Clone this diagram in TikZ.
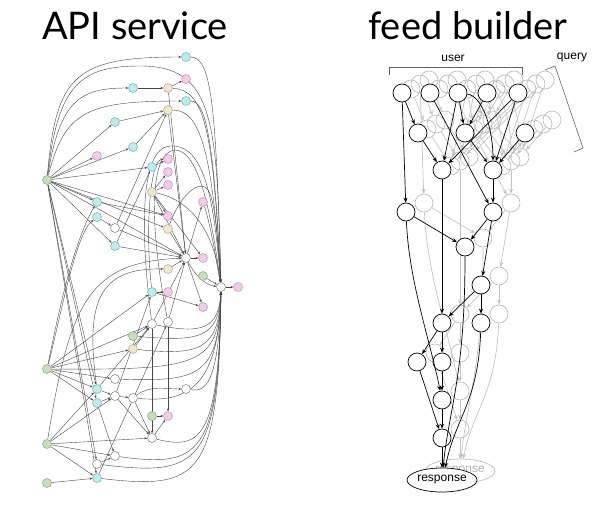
\documentclass[tikz,border=0pt]{standalone}
\usepackage{fontspec}
\setmainfont{Liberation Sans}
\newfontfamily\titlefont{Lato}
\usetikzlibrary{arrows.meta,shapes.geometric,backgrounds}
\definecolor{cyf}{HTML}{B8EEEE}\definecolor{cyd}{HTML}{6FA6A6}
\definecolor{pkf}{HTML}{F7CAEC}\definecolor{pkd}{HTML}{B38CAA}
\definecolor{tnf}{HTML}{EFE8CB}\definecolor{tnd}{HTML}{A9A283}
\definecolor{gnf}{HTML}{C5E0B9}\definecolor{gnd}{HTML}{7FA070}
\tikzset{
  lnd/.style={circle,minimum size=9pt,inner sep=0pt,line width=0.45pt},
  ncy/.style={lnd,fill=cyf,draw=cyd},
  npk/.style={lnd,fill=pkf,draw=pkd},
  ntn/.style={lnd,fill=tnf,draw=tnd},
  ngn/.style={lnd,fill=gnf,draw=gnd},
  nwh/.style={lnd,fill=white,draw=black!55},
  ed/.style={draw=black!72,line width=0.4pt,-{Stealth[length=2.8pt,width=2.2pt]}},
  fbnode/.style={circle,minimum size=18pt,inner sep=0pt,draw=black,line width=0.7pt,fill=white},
  fbedge/.style={draw=black,line width=0.7pt,-{Stealth[length=5pt,width=4pt]}},
  fbresp/.style={ellipse,minimum width=70pt,minimum height=24pt,inner sep=0pt,draw=black,line width=0.7pt,fill=white,font=\fontsize{12}{13}\selectfont},
  ghnode/.style={circle,minimum size=18pt,inner sep=0pt,draw=black!27,line width=0.65pt},
  ghedge/.style={draw=black!24,line width=0.65pt,-{Stealth[length=5pt,width=4pt]}},
  ghresp/.style={ellipse,minimum width=70pt,minimum height=24pt,inner sep=0pt,draw=black!27,text=black!30,line width=0.65pt,font=\fontsize{12}{13}\selectfont},
  title/.style={font=\titlefont\fontsize{38}{40}\selectfont,inner sep=0pt},
  lbl/.style={font=\fontsize{12}{13}\selectfont,inner sep=0pt},
  brk/.style={draw=black!60,line width=0.6pt},
}
\newcommand\fbTopNodes[1]{%
 \node[fbnode] (#1A1) at (402,93) {};
 \node[fbnode] (#1A2) at (430,93) {};
 \node[fbnode] (#1A3) at (458,93) {};
 \node[fbnode] (#1A4) at (487,93) {};
 \node[fbnode] (#1A5) at (518,93) {};
 \node[fbnode] (#1B1) at (418,133) {};
 \node[fbnode] (#1B2) at (465,133) {};
 \node[fbnode] (#1B3) at (525,133) {};
 \node[fbnode] (#1C1) at (442,170) {};
 \node[fbnode] (#1C2) at (493,170) {};
}
\newcommand\fbBotNodes[1]{%
 \node[fbnode] (#1D1) at (406,212) {};
 \node[fbnode] (#1D2) at (493,212) {};
 \node[fbnode] (#1E1) at (465,247) {};
 \node[fbnode] (#1F1) at (481,285) {};
 \node[fbnode] (#1G1) at (442,323) {};
 \node[fbnode] (#1G2) at (481,323) {};
 \node[fbnode] (#1H1) at (417,362) {};
 \node[fbnode] (#1H2) at (442,362) {};
 \node[fbnode] (#1I1) at (442,400) {};
 \node[fbnode] (#1J1) at (442,438) {};
 \node[fbresp] (#1R) at (442,480) {response};
}
\newcommand\fbTopEdges[1]{%
 \draw[fbedge] (#1A1) -- (#1B1);
 \draw[fbedge] (#1B1) -- (#1C1);
 \draw[fbedge] (#1A3) -- (#1C1);
 \draw[fbedge] (#1A3) -- (#1B2);
 \draw[fbedge] (#1A4) -- (#1B2);
 \draw[fbedge] (#1A3) .. controls +(25,3) and +(0,-40) .. (#1C2);
 \draw[fbedge] (#1A5) -- (#1C1);
 \draw[fbedge] (#1A5) -- (#1C2);
 \draw[fbedge] (#1B2) -- (#1C2);
 \draw[fbedge] (#1B3) -- (#1C2);
}
\newcommand\fbBotEdges[1]{%
 \draw[fbedge] (#1A1) -- (#1D1);
 \draw[fbedge] (#1A2) -- (#1D2);
 \draw[fbedge] (#1C1) -- (#1G1);
 \draw[fbedge] (#1C2) -- (#1D2);
 \draw[fbedge] (#1D1) -- (#1E1);
 \draw[fbedge] (#1D2) -- (#1E1);
 \draw[fbedge] (#1D2) -- (#1F1);
 \draw[fbedge] (#1F1) -- (#1G1);
 \draw[fbedge] (#1F1) -- (#1G2);
 \draw[fbedge] (#1G1) -- (#1H1);
 \draw[fbedge] (#1G1) -- (#1H2);
 \draw[fbedge] (#1H2) -- (#1I1);
 \draw[fbedge] (#1I1) -- (#1J1);
 \draw[fbedge] (#1H1) -- (#1J1);
 \draw[fbedge] (#1D1) .. controls +(3,70) and +(-12,-60) .. (#1I1);
 \draw[fbedge] (#1J1) -- (#1R);
 \draw[fbedge] (#1E1) .. controls +(0,130) and +(6,-60) .. (#1R.85);
 \draw[fbedge] (#1G2) .. controls +(-3,80) and +(10,-50) .. (#1R.75);
}
\begin{document}
\begin{tikzpicture}[x=1pt,y=-1pt]
\useasboundingbox (0,0) rectangle (600,506);
% titles
\node[title,anchor=base] (ttlA) at (135,39) {API service};
\node[title,anchor=base] (ttlB) at (468,39) {feed builder};
% ---------------- left graph nodes
\node[ngn] (g1) at (47,180) {};
\node[ngn] (g2) at (47,369) {};
\node[ngn] (g3) at (47,444) {};
\node[ngn] (g4) at (47,483) {};
\node[ncy] (c1) at (186,57) {};
\node[ncy] (c2) at (133,88) {};
\node[ntn] (t1) at (168,88) {};
\node[npk] (p1) at (186,79) {};
\node[ncy] (c3) at (186,101) {};
\node[ntn] (t2) at (168,110) {};
\node[ncy] (c4) at (115,122) {};
\node[ncy] (c5) at (133,147) {};
\node[npk] (p2) at (97,156) {};
\node[ncy] (c6) at (152,167) {};
\node[npk] (p3) at (168,159) {};
\node[npk] (p4) at (168,172) {};
\node[npk] (p5) at (168,185) {};
\node[ntn] (t3) at (152,192) {};
\node[npk] (p6) at (203,202) {};
\node[ncy] (c7) at (97,202) {};
\node[ncy] (c8) at (97,217) {};
\node[nwh] (w1) at (115,228) {};
\node[npk] (p7) at (168,216) {};
\node[ntn] (t4) at (168,229) {};
\node[ncy] (c9) at (115,246) {};
\node[nwh] (w2) at (186,258) {};
\node[npk] (p8) at (203,258) {};
\node[ntn] (t5) at (168,269) {};
\node[ngn] (g5) at (203,276) {};
\node[nwh] (w3) at (221,287) {};
\node[npk] (p9) at (238,287) {};
\node[ncy] (c10) at (152,292) {};
\node[npk] (p10) at (168,292) {};
\node[npk] (p11) at (203,307) {};
\node[nwh] (w4) at (152,324) {};
\node[nwh] (w5) at (168,322) {};
\node[ngn] (g6) at (133,336) {};
\node[ntn] (t6) at (133,349) {};
\node[nwh] (w6) at (115,379) {};
\node[ncy] (c11) at (97,389) {};
\node[ncy] (c12) at (97,403) {};
\node[nwh] (w7) at (115,396) {};
\node[nwh] (w8) at (133,398) {};
\node[nwh] (w9) at (186,389) {};
\node[ngn] (g7) at (152,416) {};
\node[npk] (p12) at (168,416) {};
\node[nwh] (w10) at (152,438) {};
\node[nwh] (w11) at (115,456) {};
\node[nwh] (w12) at (97,464) {};
\node[ncy] (c13) at (97,478) {};
\begin{pgfonlayer}{background}
% top arcs
\draw[ed] (g1) .. controls (56,75) and (75,57) .. (c1);
\draw[ed] (g1) .. controls (58,85) and (80,66) .. (140,66) .. controls (214,66) and (217,120) .. (w3);
\draw[ed] (c1) .. controls (212,57) and (216,110) .. (w3);
\draw[ed] (g1) .. controls (60,100) and (80,88) .. (c2);
\draw[ed] (c2) -- (t1);
\draw[ed] (t1) -- (p1);
\draw[ed] (t1) .. controls (205,90) and (213,130) .. (w3);
\draw[ed] (t1) -- (w2);
\draw[ed] (g1) .. controls (65,112) and (85,101) .. (c3);
\draw[ed] (c3) .. controls (206,101) and (214,140) .. (w3);
\draw[ed] (g1) -- (c4);
\draw[ed] (c4) -- (t2);
\draw[ed] (g1) -- (c5);
\draw[ed] (c5) -- (t2);
\draw[ed] (t2) .. controls (200,110) and (212,150) .. (w3);
\draw[ed] (t2) -- (w2);
\draw[ed] (g1) -- (p2);
\draw[ed] (g1) -- (c6);
\draw[ed] (c6) -- (p3);
\draw[ed] (g1) -- (p7);
\draw[ed] (g1) -- (t4);
\draw[ed] (g1) -- (c7);
\draw[ed] (c8) -- (w1);
\draw[ed] (g1) -- (c9);
\draw[ed] (g1) -- (w2);
\draw[ed] (g1) -- (c11);
\draw[ed] (g1) -- (c12);
\draw[ed] (g1) -- (w12);
\draw[ed] (g1) -- (c13);
% t3 group
\draw[ed] (t3) -- (p4);
\draw[ed] (t3) -- (p5);
\draw[ed] (t3) -- (p7);
\draw[ed] (t3) -- (w2);
\draw[ed] (t3) -- (p8);
\draw[ed] (t3) .. controls (190,200) and (214,230) .. (w3);
% loops over the pink nodes
\draw[ed] (w4) .. controls (140,230) and (140,148) .. (170,146) .. controls (205,144) and (214,200) .. (w3);
\draw[ed] (w5) .. controls (150,230) and (148,152) .. (175,150) .. controls (200,150) and (212,220) .. (w3);
\draw[ed] (c10) .. controls (145,230) and (150,160) .. (p3);
\draw[ed] (t4) .. controls (180,195) and (200,178) .. (208,190) .. controls (215,200) and (218,240) .. (w3);
% hub w2 and sink w3
\draw[ed] (w2) -- (p8);
\draw[ed] (w2) -- (p6);
\draw[ed] (w2) -- (p11);
\draw[ed] (w2) .. controls (195,275) and (205,285) .. (w3);
\draw[ed] (g5) -- (w3);
\draw[ed] (w3) -- (p9);
\draw[ed] (p6) .. controls (212,230) and (216,260) .. (w3);
\draw[ed] (t4) -- (w2);
\draw[ed] (c9) -- (w2);
\draw[ed] (w1) -- (w2);
\draw[ed] (c7) -- (p7);
\draw[ed] (t5) -- (w2);
\draw[ed] (w4) -- (w2);
\draw[ed] (w5) -- (w2);
\draw[ed] (w1) -- (t2);
\draw[ed] (c9) -- (c6);
% lower part
\draw[ed] (g2) -- (c10);
\draw[ed] (c10) -- (p10);
\draw[ed] (c10) -- (p11);
\draw[ed] (g6) -- (w4);
\draw[ed] (t6) -- (w4);
\draw[ed] (g2) -- (t6);
\draw[ed] (g2) -- (w4);
\draw[ed] (g2) -- (w6);
\draw[ed] (g2) -- (c11);
\draw[ed] (g2) -- (c12);
\draw[ed] (g2) .. controls (60,320) and (75,235) .. (c8);
\draw[ed] (g2) .. controls (57,320) and (72,245) .. (c7);
\draw[ed] (g3) .. controls (70,300) and (90,262) .. (w2);
\draw[ed] (c11) .. controls (85,300) and (100,268) .. (t5);
\draw[ed] (c11) -- (w7);
\draw[ed] (c12) -- (w7);
\draw[ed] (w7) -- (w8);
\draw[ed] (w8) .. controls (150,385) and (165,389) .. (w9);
\draw[ed] (w8) -- (w10);
\draw[ed] (w7) -- (w10);
\draw[ed] (g7) -- (p12);
\draw[ed] (w10) -- (p12);
\draw[ed] (w5) -- (p12);
\draw[ed] (w4) -- (w10);
\draw[ed] (g3) -- (c11);
\draw[ed] (g3) -- (w10);
\draw[ed] (g3) -- (w11);
\draw[ed] (g3) -- (c13);
\draw[ed] (g3) -- (w7);
\draw[ed] (c12) -- (w11);
\draw[ed] (w12) -- (w11);
\draw[ed] (g4) -- (c13);
\draw[ed] (c13) -- (w5);
\draw[ed] (c11) -- (w4);
\draw[ed] (w7) -- (c10);
% arcs rising into the sink
\draw[ed] (w4) .. controls (200,334) and (219,330) .. (w3);
\draw[ed] (g6) .. controls (200,342) and (219,338) .. (w3);
\draw[ed] (t6) .. controls (200,356) and (219,350) .. (w3);
\draw[ed] (g2) .. controls (200,370) and (219,366) .. (w3);
\draw[ed] (w6) .. controls (200,382) and (219,376) .. (w3);
\draw[ed] (w9) .. controls (205,392) and (219,385) .. (w3);
\draw[ed] (w8) .. controls (180,402) and (219,396) .. (w3);
\draw[ed] (w10) .. controls (200,450) and (219,440) .. (w3);
\draw[ed] (w11) .. controls (200,468) and (219,455) .. (w3);
\draw[ed] (w12) .. controls (200,477) and (219,465) .. (w3);
\draw[ed] (c13) .. controls (200,490) and (219,478) .. (w3);
% ---------------- feed builder ghosts
\begin{scope}[shift={(27,-13)},fbnode/.style={ghnode},fbedge/.style={ghedge}]
 \fbTopNodes{q}
 \fbTopEdges{q}
\end{scope}
\begin{scope}[shift={(9,-4)},fbnode/.style={ghnode},fbedge/.style={ghedge}]
 \fbTopNodes{p}
 \fbTopEdges{p}
\end{scope}
\begin{scope}[shift={(18,-9)},fbnode/.style={ghnode},fbedge/.style={ghedge},fbresp/.style={ghresp}]
 \fbTopNodes{o}
 \fbBotNodes{o}
 \fbTopEdges{o}
 \fbBotEdges{o}
\end{scope}
\end{pgfonlayer}
% ---------------- feed builder main
\fbTopNodes{m}
\fbBotNodes{m}
\fbTopEdges{m}
\fbBotEdges{m}
\node[lbl] (usr) at (453,58) {user};
\node[lbl] (qry) at (572,58) {query};
\draw[brk] (389,75) -- (389,67) -- (522,67) -- (522,75);
\draw[brk] (545,70) -- (555,66) -- (583,148) -- (574,152);
\end{tikzpicture}
\end{document}
